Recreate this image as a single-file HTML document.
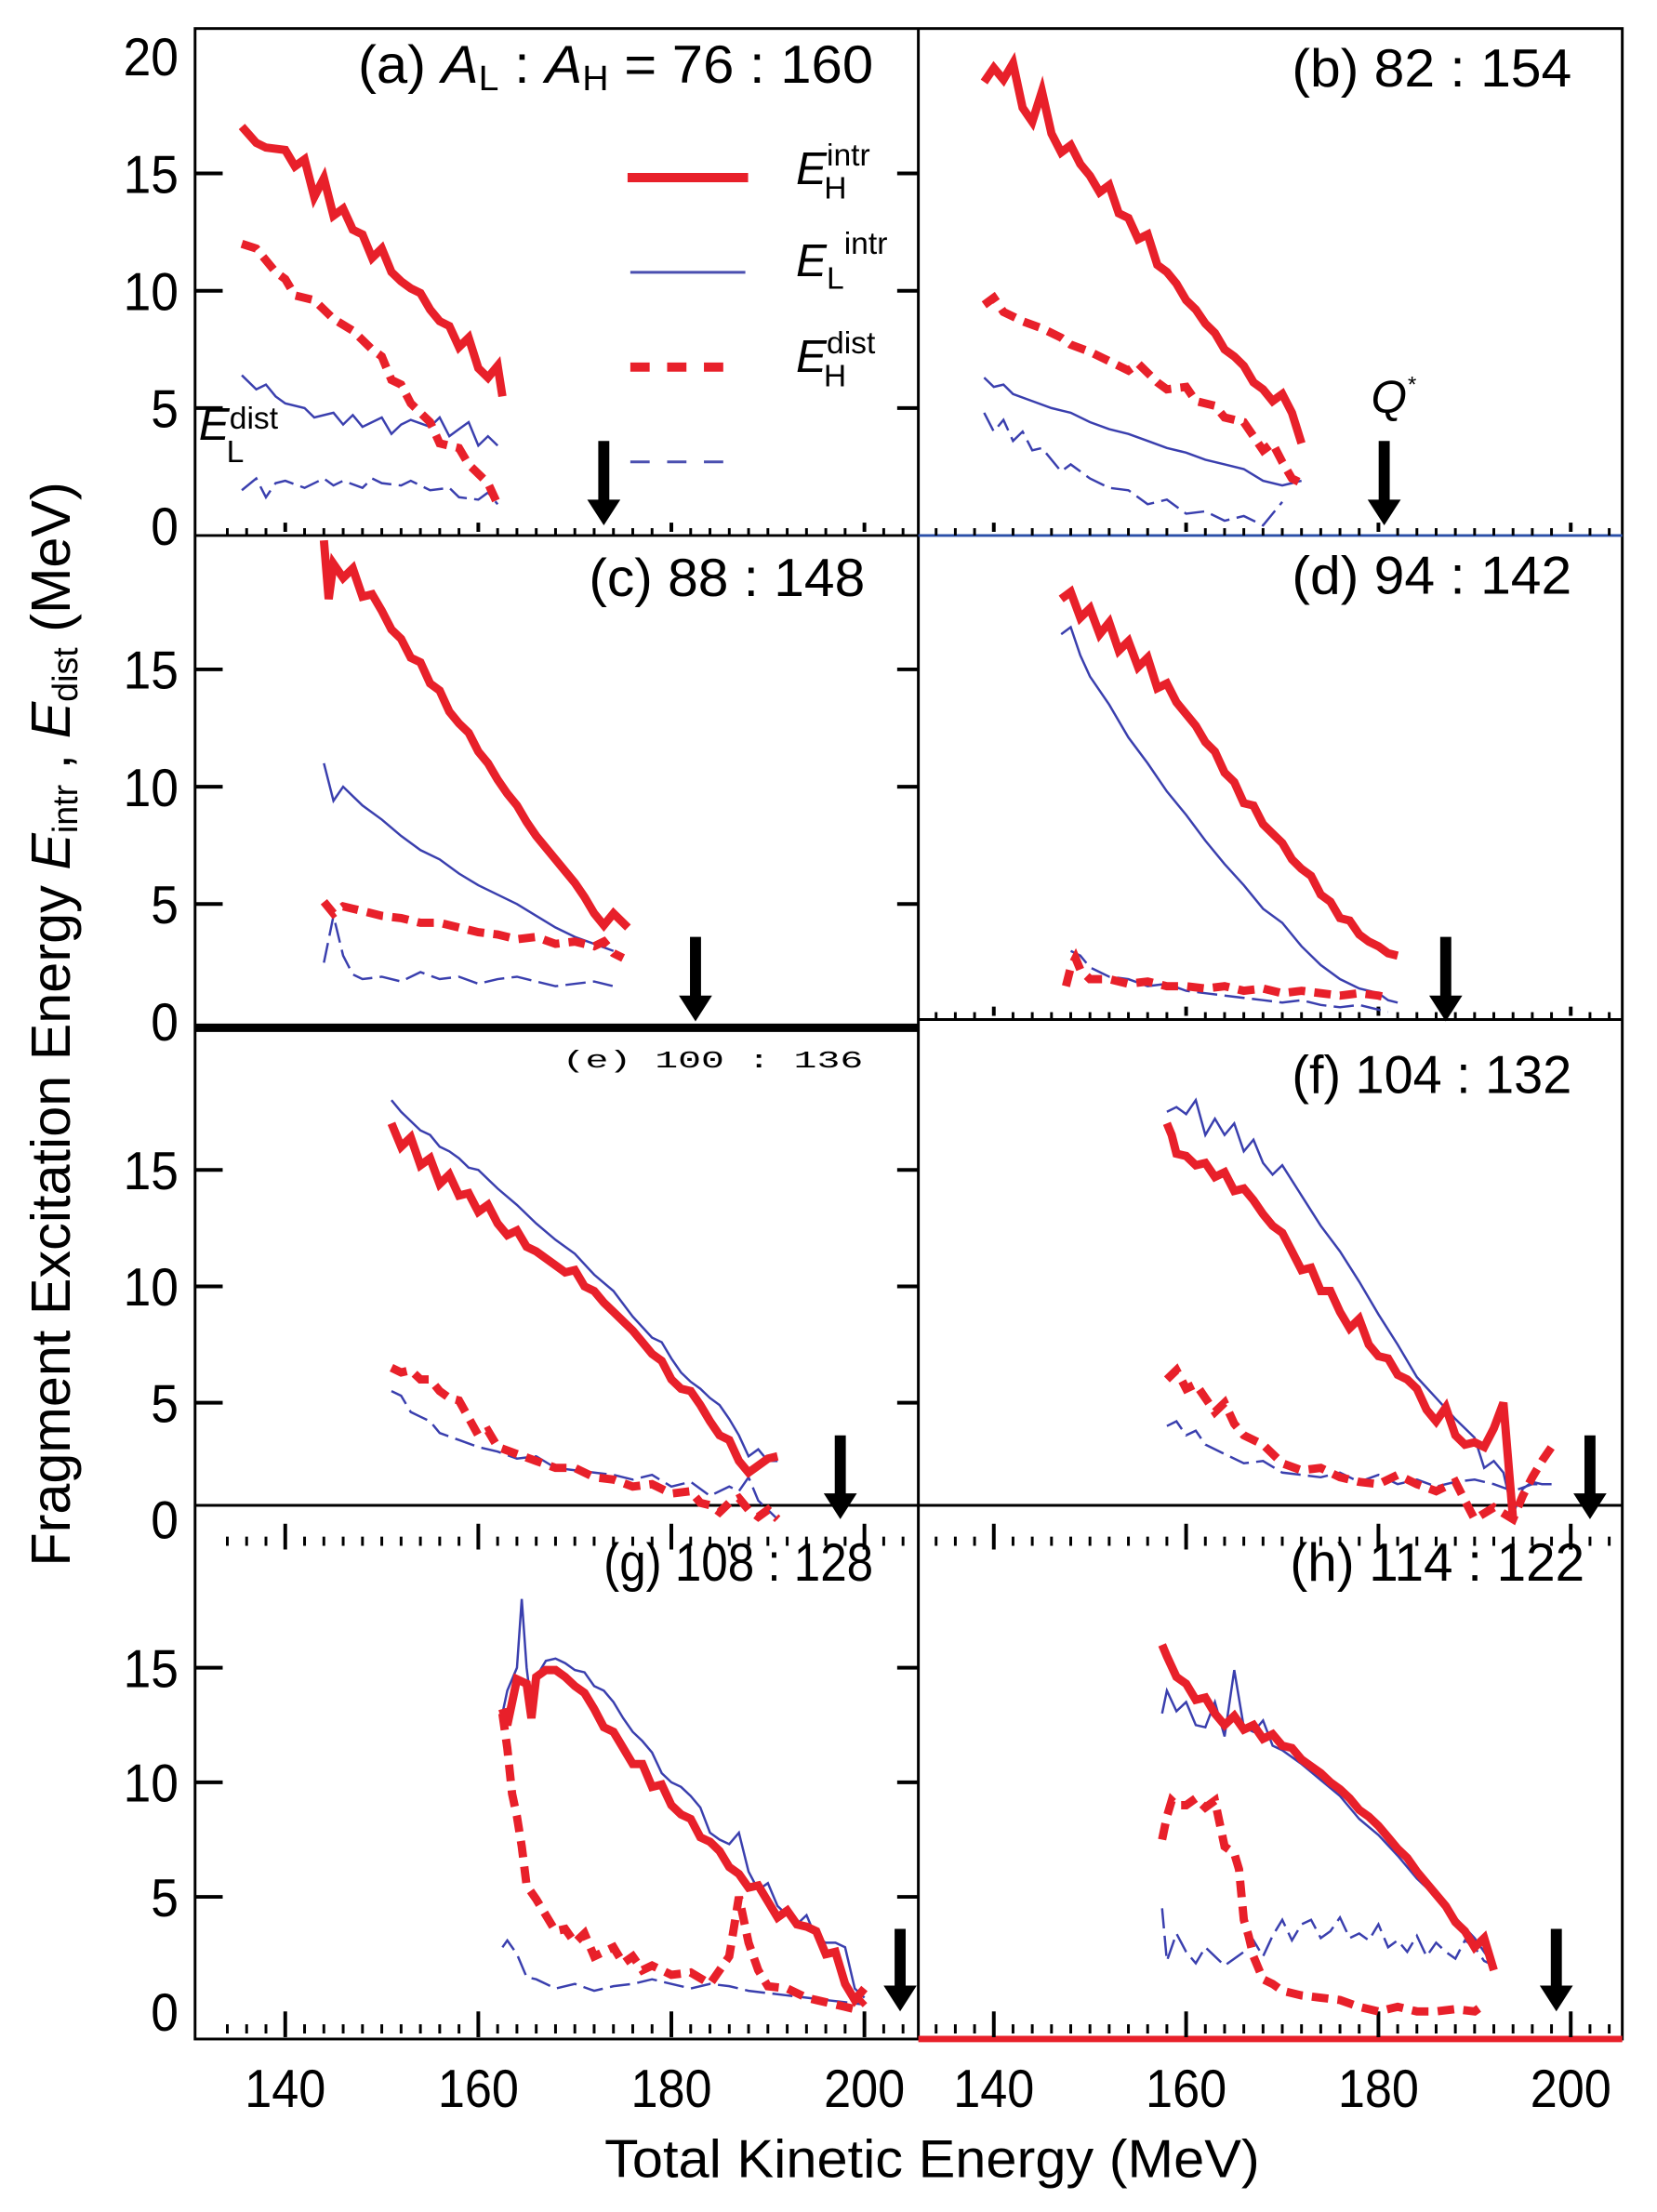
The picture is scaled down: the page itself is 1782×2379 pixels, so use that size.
<!DOCTYPE html>
<html><head><meta charset="utf-8">
<style>
html,body{margin:0;padding:0;background:#fff;}
svg{display:block;font-family:"Liberation Sans",sans-serif;}
</style></head>
<body>
<svg id="chart" width="1782" height="2379" viewBox="0 0 1782 2379" xmlns="http://www.w3.org/2000/svg">
<rect width="1782" height="2379" fill="#fff"/>
<g transform="scale(0.9896)">
<g id="frames"></g>
<g id="marks"></g>
<g id="labels"></g>
<g id="legend">
  <line x1="682" y1="193" x2="813" y2="193" stroke="#e8202a" stroke-width="10"/>
  <line x1="685" y1="296" x2="810" y2="296" stroke="#4a4fb0" stroke-width="3"/>
  <line x1="685" y1="399" x2="790" y2="399" stroke="#e8202a" stroke-width="10" stroke-dasharray="21,19"/>
  <line x1="685" y1="502" x2="790" y2="502" stroke="#4a4fb0" stroke-width="3" stroke-dasharray="21,19"/>
  <text x="865" y="200" font-size="50" font-style="italic">E<tspan font-style="normal" font-size="34" dy="-20">intr</tspan><tspan font-style="normal" font-size="34" dx="-50" dy="36">H</tspan></text>
  <text x="865" y="300" font-size="50" font-style="italic">E<tspan font-style="normal" font-size="34" dy="14">L</tspan><tspan font-style="normal" font-size="34" dy="-38">intr</tspan></text>
  <text x="865" y="404" font-size="50" font-style="italic">E<tspan font-style="normal" font-size="34" dy="-20">dist</tspan><tspan font-style="normal" font-size="34" dx="-56" dy="36">H</tspan></text>
  <text x="216" y="478" font-size="50" font-style="italic">E<tspan font-style="normal" font-size="34" dy="-12">dist</tspan><tspan font-style="normal" font-size="34" dx="-56" dy="36">L</tspan></text>
  <text x="1490" y="448" font-size="50" font-style="italic">Q<tspan font-size="24" dy="-22">*</tspan></text>
</g>
</g>
</svg>
<script>
// ---------- data ----------
const panelNames = ["(a) ","(b) 82 : 154","(c) 88 : 148","(d) 94 : 142","(e) 100 : 136","(f) 104 : 132","(g) 108 : 128","(h) 114 : 122"];
const yTickLabels = ["0","5","10","15","20"];
const xTickLabels = ["140","160","180","200"];
const xTickValues = [140,160,180,200];
const arrowTKE = [173,180.6,182.5,187,197.5,202,203.7,198.5];

// panel a
const aHIx=[135.5,137,138,140,141,142,143,144,145,146,147,148,149,150,151,152,153,154,155,156,157,158,159,160,161,162,162.5];
const aHIy=[17,16.3,16.1,16,15.3,15.6,14,14.8,13.2,13.5,12.6,12.4,11.4,11.8,10.8,10.4,10.1,9.9,9.2,8.7,8.5,7.6,8,6.7,6.3,6.8,5.5];
const aHDx=[135.5,137,139,140,141,143,145,147,149,150,151,152,153,155,156,158,159,160,161,162];
const aHDy=[12,11.8,10.8,10.5,9.8,9.6,8.8,8.3,7.5,7.2,6.2,6,5.2,4.4,3.5,3.3,2.6,2.2,1.8,0.9];
const aLIx=[135.5,137,138,139,140,142,143,145,146,147,148,150,151,152,153,155,156,157,158,159,160,161,162];
const aLIy=[6.4,5.8,6,5.5,5.2,5,4.6,4.8,4.3,4.7,4.2,4.6,3.9,4.3,4.5,4.2,4.6,3.8,4.1,4.4,3.4,3.8,3.4];
const aLDx=[135.5,137,138,139,140,142,144,145,146,148,149,150,152,153,155,157,158,160,161,162];
const aLDy=[1.5,2,1.2,1.8,1.9,1.6,2,1.7,1.9,1.6,2,1.8,1.7,1.9,1.5,1.6,1.2,1.1,1.4,0.9];
// panel b
const bHIx=[139,140,141,142,143,144,145,146,147,148,149,150,151,152,153,154,155,156,157,158,159,160,161,162,163,164,165,166,167,168,169,170,171,172];
const bHIy=[18.9,19.5,19,19.7,17.8,17.2,18.5,16.7,15.9,16.2,15.4,14.9,14.2,14.5,13.3,13.1,12.2,12.4,11.1,10.8,10.3,9.6,9.2,8.6,8.2,7.5,7.2,6.8,6.1,5.8,5.3,5.6,4.8,3.5];
const bHDx=[139,140,141,143,145,147,148,150,152,154,155,157,158,160,161,163,164,166,167,168,169,170,171,172];
const bHDy=[9.4,9.7,9.1,8.7,8.4,8,7.7,7.4,7,6.6,6.9,6.1,5.8,5.9,5.3,5.1,4.6,4.4,3.8,3.2,3.5,2.7,2,1.8];
const bLIx=[139,140,141,142,144,146,148,150,152,154,156,158,160,162,164,166,168,170,171,172];
const bLIy=[6.3,5.9,6,5.6,5.3,5,4.8,4.4,4.1,3.9,3.6,3.3,3.1,2.8,2.6,2.4,1.9,1.7,1.8,1.9];
const bLDx=[139,140,141,142,143,144,145,147,148,150,152,154,156,158,160,162,164,166,168,170];
const bLDy=[4.8,4,4.5,3.6,4,3.2,3.3,2.3,2.6,2,1.6,1.5,0.9,1.1,0.5,0.6,0.2,0.4,0,1];
// panel c
const cHIx=[144,144.5,145,146,147,148,149,150,151,152,153,154,155,156,157,158,159,160,161,162,163,164,165,166,167,168,169,170,171,172,173,174,175.5];
const cHIy=[20.5,18,19.5,18.9,19.3,18.1,18.2,17.5,16.7,16.3,15.5,15.3,14.4,14.1,13.2,12.7,12.3,11.5,11,10.3,9.7,9.2,8.5,7.9,7.4,6.9,6.4,5.9,5.3,4.6,4.1,4.6,4];
const cHDx=[144,145,146,148,150,152,154,156,158,160,162,164,166,168,170,172,173,174,175];
const cHDy=[5.1,4.6,4.9,4.7,4.5,4.4,4.2,4.2,4,3.8,3.7,3.5,3.6,3.3,3.4,3.2,3.4,2.9,2.7];
const cLIx=[144,145,146,148,150,152,154,156,158,160,162,164,166,168,170,172,174];
const cLIy=[11,9.4,10,9.2,8.6,7.9,7.3,6.9,6.3,5.8,5.4,5,4.5,4,3.6,3.3,3];
const cLDx=[144,145,146,147,148,150,152,154,156,158,160,162,164,166,168,170,172,174];
const cLDy=[2.5,4.5,2.8,2,1.8,1.9,1.7,2.1,1.8,1.9,1.6,1.8,1.9,1.7,1.5,1.6,1.7,1.5];
// panel d
const dHIx=[147,148,149,150,151,152,153,154,155,156,157,158,159,160,161,162,163,164,165,166,167,168,169,170,171,172,173,174,175,176,177,178,179,180,181,182];
const dHIy=[18,18.3,17.2,17.6,16.5,17,15.8,16.2,15.1,15.5,14.2,14.4,13.6,13.1,12.6,11.9,11.5,10.6,10.2,9.3,9.2,8.4,8,7.6,6.9,6.5,6.2,5.4,5.1,4.4,4.3,3.7,3.4,3.2,2.9,2.8];
const dHDx=[147.5,148,148.5,149,150,152,154,156,158,160,162,164,166,168,170,172,174,176,178,180,181];
const dHDy=[1.5,2.3,2.7,2.2,1.8,1.8,1.6,1.7,1.5,1.5,1.4,1.5,1.3,1.4,1.2,1.3,1.2,1.1,1.2,1.1,1];
const dLIx=[147,148,149,150,152,154,156,158,160,162,164,166,168,170,172,174,176,178,180,181,182];
const dLIy=[16.5,16.8,15.6,14.7,13.5,12.1,11,9.8,8.8,7.7,6.7,5.8,4.8,4.2,3.2,2.4,1.8,1.4,1.2,0.9,0.8];
const dLDx=[148,149,150,152,154,156,158,160,162,164,166,168,170,172,174,176,178,180,181];
const dLDy=[3,2.8,2.3,1.9,1.8,1.5,1.6,1.3,1.2,1.1,1,0.9,0.8,0.9,0.7,0.6,0.7,0.5,0.4];
// panel e
const eHIx=[151,152,153,154,155,156,157,158,159,160,161,162,163,164,165,166,167,168,169,170,171,172,173,174,175,176,177,178,179,180,181,182,183,184,185,186,187,188,189,190,191];
const eHIy=[17,16,16.4,15.2,15.5,14.4,14.8,13.9,14,13.2,13.5,12.7,12.2,12.4,11.7,11.5,11.2,10.9,10.6,10.7,10,9.8,9.3,8.9,8.5,8.1,7.6,7.1,6.8,6,5.6,5.5,4.9,4.2,3.6,3.4,2.5,2,2.3,2.6,2.7];
const eHDx=[151,152,153,154,155,156,157,158,160,161,162,164,166,168,170,172,174,176,178,180,182,183,184,185,186,187,188,189,190,191];
const eHDy=[6.5,6.3,6.4,6,6,5.5,5.2,5.1,3.6,3.8,3.1,2.8,2.5,2.2,2.2,1.8,1.7,1.4,1.5,1.1,1.2,0.7,0.6,0.3,0.7,0.9,0.4,0.1,0.4,0];
const eLIx=[151,152,153,154,155,156,157,158,159,160,162,164,166,168,170,172,174,176,178,179,180,181,182,183,184,185,186,187,188,189,190,191];
const eLIy=[18,17.5,17.1,16.7,16.5,16,15.8,15.5,15.1,15,14.2,13.5,12.7,12,11.4,10.5,9.8,8.7,7.8,7.6,6.9,6.3,5.9,5.6,5.2,4.9,4.3,3.6,2.7,3,2.5,2.5];
const eLDx=[151,152,153,154,155,156,158,160,162,164,166,168,170,172,174,176,178,180,182,184,186,187,188,189,190,191];
const eLDy=[5.5,5.3,4.6,4.4,4.2,3.7,3.4,3.1,2.9,2.6,2.7,2.2,2.1,2,1.9,1.7,1.9,1.4,1.6,1,1.4,1.2,1.8,0.8,0.4,0];
// panel f
const fHIx=[158,158.5,159,160,161,162,163,164,165,166,167,168,169,170,171,172,173,174,175,176,177,178,179,180,181,182,183,184,185,186,187,188,189,190,191,192,193,194];
const fHIy=[17,16.5,15.7,15.6,15.2,15.3,14.7,14.9,14.1,14.2,13.7,13.1,12.6,12.3,11.5,10.7,10.8,9.8,9.8,8.9,8.2,8.6,7.5,7,6.9,6.2,6,5.6,4.7,4.2,4.8,3.6,3.2,3.3,3.1,3.9,5,0];
const fHDx=[158,159,160,161,162,163,164,165,166,168,170,172,174,176,178,180,182,184,186,188,189,190,192,194,195,196,197,198];
const fHDy=[6,6.4,5.6,5.8,5.2,4.6,5,4.1,3.6,3.2,2.4,2.1,2.2,1.8,1.6,1.5,1.9,1.5,1.2,1.6,0.8,0,0.5,0,1,1.8,2.5,3.1];
const fLIx=[158,159,160,161,162,163,164,165,166,167,168,169,170,172,174,176,178,180,182,184,186,188,189,190,191,192,193,194,195,196,197,198];
const fLIy=[17.5,17.7,17.4,18,16.5,17.2,16.5,17,15.8,16.3,15.3,14.8,15.2,13.9,12.6,11.5,10.2,8.8,7.5,6.1,5.2,4.3,3.9,3.5,2.2,2.5,2,0.2,1.3,1.6,1.5,1.5];
const fLDx=[158,159,160,161,162,164,166,168,170,172,174,176,178,180,182,184,186,188,190,192,194,196,198];
const fLDy=[4,4.2,3.6,3.8,3.2,2.8,2.4,2.5,2,1.9,1.8,2,1.6,1.9,1.5,1.7,1.4,1.6,1.7,1.5,1.2,1.5,1.5];
// panel g
const gHIx=[162.5,163,164,165,165.5,166,167,168,169,170,171,172,173,174,175,176,177,178,179,180,181,182,183,184,185,186,187,188,189,190,191,192,193,194,195,196,197,198,199,200];
const gHIy=[13.2,12.5,14.5,14.3,12.8,14.6,14.9,14.9,14.6,14.2,13.9,13.2,12.4,12.2,11.5,10.8,10.8,9.8,9.9,9,8.6,8.4,7.6,7.4,7,6.3,6,5.4,5.5,4.8,4.1,4.4,3.8,3.7,3.5,2.5,2.6,1.2,0.5,1];
const gHDx=[162.5,163,163.5,164,164.5,165,166,167,168,169,170,171,172,173,174,175,176,177,178,180,182,184,186,187,188,189,190,192,194,195,196,198,199,200];
const gHDy=[13,11.5,9.5,8.5,7.2,5.5,4.9,4.2,3.5,3.6,3,3.4,2.4,2.6,2.8,2.1,2.4,1.8,2,1.6,1.7,1.2,2.4,5,3,1.8,1.1,1,0.6,0.5,0.4,0.2,0.1,0.5];
const gLIx=[162.5,163,164,164.5,165,165.5,166,167,168,169,170,171,172,173,174,175,176,177,178,179,180,181,182,183,184,185,186,187,188,189,190,191,192,193,194,195,196,197,198,199,200];
const gLIy=[13,14,15,18,15,13.3,14.6,15.3,15.4,15.2,14.9,14.8,14.2,14,13.5,12.8,12.2,11.8,11.3,10.4,10,9.8,9.4,8.9,7.8,7.5,7.3,7.8,6.1,5.3,5.6,4.6,4.2,3.8,4.2,3.2,3,3,2.8,1,0.6];
const gLDx=[162.5,163,164,165,166,167,168,170,172,174,176,178,180,182,184,186,188,190,192,194,196,198,200];
const gLDy=[2.8,3.1,2.5,1.5,1.4,1.2,1,1.2,0.9,1.1,1.2,1.4,1.2,1,1.2,1.1,0.9,0.8,0.7,0.6,0.5,0.4,0.3];
// panel h
const hHIx=[157.5,158,159,160,161,162,163,164,165,166,167,168,169,170,171,172,173,174,175,176,177,178,179,180,181,182,183,184,185,186,187,188,189,190,191,192];
const hHIy=[16,15.5,14.6,14.3,13.6,13.7,13,12.5,12.9,12.3,12.5,11.9,12.1,11.6,11.5,11,10.7,10.4,10,9.7,9.3,8.8,8.5,8.1,7.6,7.1,6.7,6.1,5.6,5.1,4.6,3.9,3.5,2.8,3.2,1.8];
const hHDx=[157.5,158,158.5,159,160,161,162,163,164,165,165.5,166,166.5,167,168,169,170,172,174,176,178,180,182,184,186,188,190,191];
const hHDy=[7.5,8.5,9.2,9,9,9.3,8.9,9.2,7.2,6.9,6.2,4,3.3,2.4,1.4,1.2,0.9,0.7,0.6,0.5,0.2,0,0.2,0,0,0.1,0,0.3];
const hLIx=[157.5,158,159,160,161,162,163,164,165,166,167,168,169,170,172,174,176,178,180,182,184,186,188,190,191,192];
const hLIy=[13,14,13.1,13.5,12.5,12.4,13.5,12,14.9,12.4,12.2,12.7,11.6,11.4,10.8,10.1,9.4,8.4,7.7,6.8,5.8,5,4.1,3.2,2.6,2];
const hLDx=[157.5,158,159,160,161,162,164,166,167,168,169,170,171,172,173,174,175,176,177,178,179,180,181,182,183,184,185,186,187,188,189,190,191,192];
const hLDy=[4.5,2.2,3.4,2.6,2.1,2.8,2,2.6,3.1,2.4,3.3,4,3.1,3.8,4,3.2,3.5,4.1,3.2,3.4,3.1,3.8,2.8,3.1,2.6,3.3,2.4,3,2.6,2.3,3.1,2.8,2.2,2];

const panels=[
 {HI:[aHIx,aHIy],HD:[aHDx,aHDy],LI:[aLIx,aLIy],LD:[aLDx,aLDy]},
 {HI:[bHIx,bHIy],HD:[bHDx,bHDy],LI:[bLIx,bLIy],LD:[bLDx,bLDy]},
 {HI:[cHIx,cHIy],HD:[cHDx,cHDy],LI:[cLIx,cLIy],LD:[cLDx,cLDy]},
 {HI:[dHIx,dHIy],HD:[dHDx,dHDy],LI:[dLIx,dLIy],LD:[dLDx,dLDy]},
 {HI:[eHIx,eHIy],HD:[eHDx,eHDy],LI:[eLIx,eLIy],LD:[eLDx,eLDy]},
 {HI:[fHIx,fHIy],HD:[fHDx,fHDy],LI:[fLIx,fLIy],LD:[fLDx,fLDy]},
 {HI:[gHIx,gHIy],HD:[gHDx,gHDy],LI:[gLIx,gLIy],LD:[gLDx,gLDy]},
 {HI:[hHIx,hHIy],HD:[hHDx,hHDy],LI:[hLIx,hLIy],LD:[hLDx,hLDy]}
];

// ---------- geometry ----------
const NS="http://www.w3.org/2000/svg";
const rowZero=[571,1110,1651,2186];
const rowScale=[25.5,25.5,25.3,24.9];
const colX140=[310,1080];
const colK=[10.49,10.45];
function xS(col,v){return colX140[col]+(v-140)*colK[col];}
function yS(row,v){return rowZero[row]-v*rowScale[row];}
function mk(tag,attrs,parent){const e=document.createElementNS(NS,tag);for(const k in attrs)e.setAttribute(k,attrs[k]);parent.appendChild(e);return e;}
const frames=document.getElementById('frames');
const marks=document.getElementById('marks');
const labels=document.getElementById('labels');

// frames
let r=mk('rect',{x:212,y:31,width:1551,height:2185,fill:'none',stroke:'#000','stroke-width':3},frames);


let l=mk('line',{x1:998,y1:31,x2:998,y2:2216,stroke:'#000','stroke-width':3},frames);


const divs=[[212,582,998,582,'#000',3],[998,582,1763,582,'#2a4fa8',3],[212,1117,998,1117,'#000',9],[998,1108,1763,1108,'#000',3],[212,1636,1763,1636,'#000',3],[998,2216,1763,2216,'#e8202a',7]];
divs.forEach(d=>{const e=mk('line',{x1:d[0],y1:d[1],x2:d[2],y2:d[3],stroke:d[4],'stroke-width':d[5]},frames);
 
 });

// x minor ticks along row boundaries
const tickRows=[[582,0],[582,1],[1108,1],[1670,0],[1670,1],[2200,0],[2200,1]];
tickRows.forEach(tr=>{for(let v=134;v<=206;v+=2){const x=xS(tr[1],v);if(tr[1]==0&&(x<218||x>992))continue;if(tr[1]==1&&(x<1004||x>1757))continue;
 const major=(v%20===0);const e=mk('line',{x1:x,y1:tr[0]-(major?14:0),x2:x,y2:tr[0]+(major?14:10)-(tr[0]==582||tr[0]==1108?18:0),stroke:'#000','stroke-width':major?4:3},frames);
 
 }});

// y ticks
for(let row=0;row<4;row++){[5,10,15].forEach(v=>{[[212,242],[975,998]].forEach(s=>{const e=mk('line',{x1:s[0],y1:yS(row,v),x2:s[1],y2:yS(row,v),stroke:'#000','stroke-width':4},frames);
 
 });});}

// y tick labels
for(let row=0;row<4;row++){for(let i=0;i<yTickLabels.length;i++){if(i==4&&row>0)continue;const s=yTickLabels[i];
 const t=mk('text',{x:194,y:yS(row,i*5)+21,'font-size':58,'text-anchor':'end',textLength:s.length*30,lengthAdjust:'spacingAndGlyphs'},labels);t.textContent=s;
 
 }}
// x tick labels
for(let c=0;c<2;c++){for(let i=0;i<xTickLabels.length;i++){const t=mk('text',{x:xS(c,xTickValues[i]),y:2290,'font-size':58,'text-anchor':'middle',textLength:88,lengthAdjust:'spacingAndGlyphs'},labels);t.textContent=xTickLabels[i];
 
 }}
let t=mk('text',{x:1013,y:2366,'font-size':58,'text-anchor':'middle',textLength:712,lengthAdjust:'spacingAndGlyphs'},labels);t.textContent='Total  Kinetic  Energy  (MeV)';


t=mk('text',{x:0,y:0,'font-size':60,'text-anchor':'middle',transform:'translate(76,1113) rotate(-90)'},labels);
t.innerHTML='Fragment  Excitation  Energy  <tspan font-style="italic">E</tspan><tspan font-size="38" dy="8">intr</tspan><tspan dy="-8"> ,  </tspan><tspan font-style="italic">E</tspan><tspan font-size="38" dy="8">dist</tspan><tspan dy="-8">  (MeV)</tspan>';



// panel titles [right x, baseline y, textLength]
const titlePos=[[949,90,560],[1708,94,304],[940,648,300],[1708,645,304],[938,1160,327],[1708,1188,304],[949,1718,293],[1722,1718,320]];
panelNames.forEach((n,i)=>{const p=titlePos[i];const e=mk('text',{x:p[0],y:p[1],'font-size':i==4?26:58,'text-anchor':'end',textLength:p[2],lengthAdjust:'spacingAndGlyphs'},labels);
 if(i==0){e.innerHTML='(a) <tspan font-style="italic">A</tspan><tspan font-size="38" dy="8">L</tspan><tspan dy="-8"> : </tspan><tspan font-style="italic">A</tspan><tspan font-size="38" dy="8">H</tspan><tspan dy="-8"> = 76 :  160</tspan>';}
 else if(i==4){e.setAttribute('font-family','Liberation Mono, monospace');e.textContent=n;}
 else e.textContent=n;
 
 });

// series
const styles={HI:['#e8202a',9,'none'],HD:['#e8202a',9,'18,10'],LI:['#3a3fae',2.5,'none'],LD:['#3a3fae',2.5,'22,8']};
const seriesNames={HI:'eh-intr-line',HD:'eh-dist-line',LI:'el-intr-line',LD:'el-dist-line'};
panels.forEach((p,i)=>{const row=Math.floor(i/2),col=i%2;
 ['LD','LI','HD','HI'].forEach(k=>{const xs=p[k][0],ys=p[k][1];let d='';
  for(let j=0;j<xs.length;j++){d+=(j?'L':'M')+xS(col,xs[j]).toFixed(1)+','+yS(row,ys[j]).toFixed(1);}
  const s=styles[k];const e=mk('path',{d:d,fill:'none',stroke:s[0],'stroke-width':s[1],'stroke-dasharray':s[2],'stroke-linejoin':'miter'},marks);
  
  });
 // arrow
 const ax=xS(col,arrowTKE[i]),top=yS(row,3.6),bot=yS(row,0);
 const a=mk('path',{d:`M${ax-6},${top}L${ax+6},${top}L${ax+6},${bot-28}L${ax+18},${bot-28}L${ax},${bot}L${ax-18},${bot-28}L${ax-6},${bot-28}Z`,fill:'#000'},marks);
 
 
});
</script>
</body></html>
